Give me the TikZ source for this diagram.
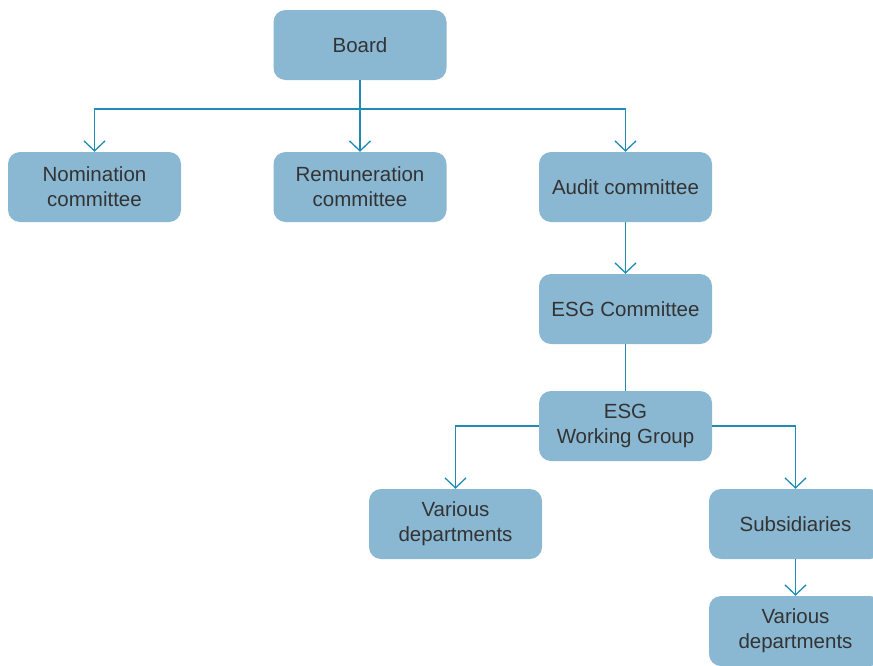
\documentclass[tikz,border=0pt]{standalone}
\usepackage{fontspec}
\setmainfont{Liberation Sans}
\usetikzlibrary{arrows.meta}

\definecolor{boxblue}{HTML}{8AB8D3}
\definecolor{lineblue}{HTML}{1E8CB4}
\definecolor{textgray}{HTML}{333333}

\tikzset{
  unit/.style={fill=boxblue, rounded corners=12pt, minimum width=173pt,
    minimum height=70pt, inner sep=0pt, align=center, text=textgray,
    font=\fontsize{20.5}{25}\selectfont},
  joint/.style={draw=lineblue, line width=1.3pt},
  link/.style={joint, -{Straight Barb[length=10pt,width=21pt]}}
}

\begin{document}
\begin{tikzpicture}[x=1pt,y=-1pt]

    \useasboundingbox (0,0) rectangle (873,665);
    \clip (0,0) rectangle (873,665);

    % Board and its committees
    \node[unit] (board) at (360, 45) {Board};
    \node[unit] (nom) at (94.5, 187) {Nomination\\committee};
    \node[unit] (rem) at (360, 187) {Remuneration\\committee};
    \node[unit] (audit) at (625.5, 187) {Audit committee};

    % ESG chain
    \node[unit] (esg) at (625.5, 309) {ESG Committee};
    \node[unit] (wg) at (625.5, 426) {ESG\\Working Group};
    \node[unit] (depts) at (455.5, 524) {Various\\departments};
    \node[unit] (subs) at (795.5, 524) {Subsidiaries};
    \node[unit] (subdepts) at (795.5, 631) {Various\\departments};

    % Connectors from the board
    \coordinate (split) at (360, 109);
    \draw[joint] (board.south) -- (split);
    \draw[link] (split) -| (nom.north);
    \draw[link] (split) -- (rem.north);
    \draw[link] (split) -| (audit.north);

    % Connectors below the audit committee
    \draw[link] (audit) -- (esg);
    \draw[joint] (esg) -- (wg);
    \draw[link] (wg.west) -| (depts.north);
    \draw[link] (wg.east) -| (subs.north);
    \draw[link] (subs) -- (subdepts);

\end{tikzpicture}
\end{document}
